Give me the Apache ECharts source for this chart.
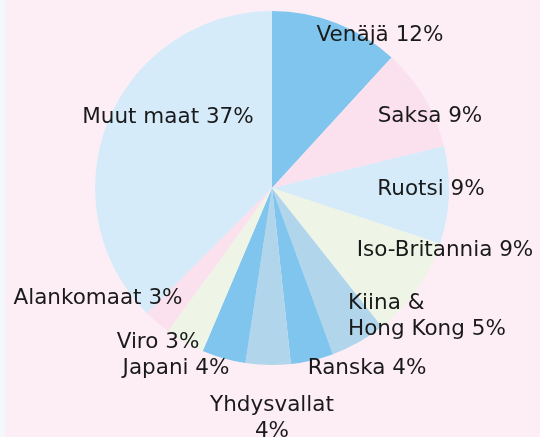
<!DOCTYPE html>
<html>
<head>
<meta charset="utf-8">
<script src="https://cdn.jsdelivr.net/npm/echarts@6/dist/echarts.min.js"></script>
<style>
  html, body { margin: 0; padding: 0; }
  body { background: linear-gradient(90deg, #f3f8fc 0, #f3f8fc 5px, #fdeef5 5px); }
  #chart { width: 540px; height: 437px; }
</style>
</head>
<body>
<div id="chart"></div>
<script>
// slice order: clockwise from 12 o'clock
const countries = ['Venäjä', 'Saksa', 'Ruotsi', 'Iso-Britannia', 'Kiina &\nHong Kong', 'Ranska',
  'Yhdysvallat\n', 'Japani', 'Viro', 'Alankomaat', 'Muut maat']
// shares as drawn
const shares = [11.8, 9.4, 8.9, 9.25, 5.05, 3.9, 4.1, 4.0, 3.6, 2.5, 37.5]
// percentages printed on the labels
const labelPct = [12, 9, 9, 9, 5, 4, 4, 4, 3, 3, 37]

const colors = ['#80c5ee', '#fbe0ee', '#d5ebfa', '#eef5e6', '#b1d6ec', '#80c5ee',
  '#b1d6ec', '#80c5ee', '#eef5e6', '#fbe0ee', '#d5ebfa']

// label anchor points [x, y, align]
const labelPos = [
  [380, 35, 'center'], [430, 116, 'center'], [431, 189, 'center'], [445, 250, 'center'],
  [348, 316, 'left'], [367, 368, 'center'], [272, 418, 'center'], [176, 368, 'center'],
  [158, 342, 'center'], [98, 298, 'center'], [168, 117, 'center']
]

const chart = echarts.init(document.getElementById('chart'))
chart.setOption({
  backgroundColor: 'transparent',
  animation: false,
  series: [{
    type: 'pie',
    center: [272, 188],
    radius: 177,
    startAngle: 90,
    clockwise: true,
    silent: true,
    data: countries.map((name, i) => ({
      name,
      value: shares[i],
      itemStyle: { color: colors[i] }
    })),
    label: {
      show: true,
      position: 'inside',
      formatter: p => p.name + (p.name.endsWith('\n') ? '' : ' ') + labelPct[p.dataIndex] + '%',
      fontFamily: 'DejaVu Sans',
      fontSize: 21.5,
      lineHeight: 26,
      color: '#1a1a1a'
    },
    labelLayout: p => ({
      x: labelPos[p.dataIndex][0],
      y: labelPos[p.dataIndex][1],
      align: labelPos[p.dataIndex][2],
      verticalAlign: 'middle'
    }),
    labelLine: { show: false }
  }]
})
</script>
</body>
</html>
